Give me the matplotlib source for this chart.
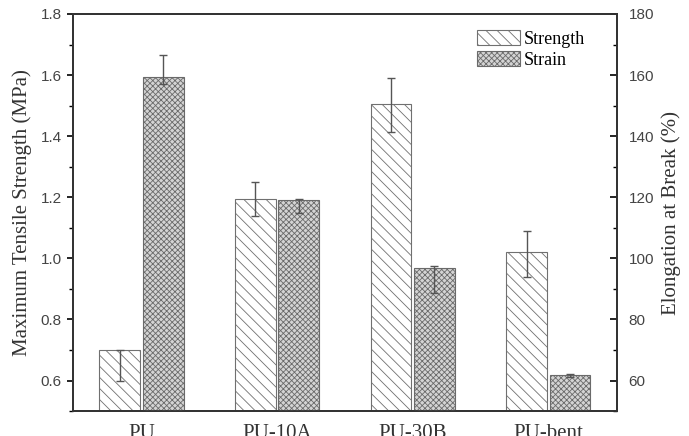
import matplotlib
matplotlib.use("Agg")
import numpy as np
from matplotlib import pyplot as plt
from matplotlib.ticker import MultipleLocator

# data
samples = ["PU", "PU-10A", "PU-30B", "PU-bent"]
strength = [0.70, 1.195, 1.505, 1.02]          # MPa, left axis
strength_err_lo = [0.10, 0.055, 0.09, 0.08]
strength_err_hi = [0.0, 0.055, 0.085, 0.07]
strain = [159.5, 119.0, 96.8, 61.7]            # %, right axis
strain_err_lo = [2.5, 4.0, 8.0, 0.4]
strain_err_hi = [7.0, 0.4, 0.8, 0.4]

plt.rcParams["hatch.linewidth"] = 0.6
plt.rcParams["hatch.color"] = "#707070"
serif = "Liberation Serif"
sans = "Liberation Sans"

fig = plt.figure(figsize=(6.89, 4.36), dpi=100)
ax1 = fig.add_axes([0.106, 0.057, 0.790, 0.911])
ax2 = ax1.twinx()

x = np.arange(len(samples))
w = 0.30
off = 0.16

b1 = ax1.bar(x - off, strength, w, color="white", edgecolor="#707070",
             hatch="\\\\\\", linewidth=0.8, zorder=2)
ax1.errorbar(x - off, strength, yerr=[strength_err_lo, strength_err_hi],
             fmt="none", ecolor="#555555", elinewidth=1.0, capsize=3, zorder=3)

b2 = ax2.bar(x + off, strain, w, color="#d4d4d4", edgecolor="#6a6a6a",
             hatch="xxxxxx", linewidth=0.8, zorder=2)
ax2.errorbar(x + off, strain, yerr=[strain_err_lo, strain_err_hi],
             fmt="none", ecolor="#555555", elinewidth=1.0, capsize=3, zorder=3)

ax1.set_xlim(-0.505, 3.51)
ax1.set_ylim(0.5, 1.8)
ax2.set_ylim(50, 180)

ax1.yaxis.set_minor_locator(MultipleLocator(0.1))
ax1.set_yticks([0.6, 0.8, 1.0, 1.2, 1.4, 1.6, 1.8])
ax2.yaxis.set_minor_locator(MultipleLocator(10))
ax2.set_yticks([60, 80, 100, 120, 140, 160, 180])

ax1.set_xticks(x)
ax1.set_xticklabels(samples, fontfamily=serif, fontsize=15, color="#333333")
ax1.tick_params(axis="x", length=0, pad=9)
ax1.tick_params(axis="y", which="major", direction="out", length=4, width=1.2,
                labelsize=11, labelcolor="#444444", pad=4)
ax1.tick_params(axis="y", which="minor", direction="out", length=3, width=1.0)
ax2.tick_params(axis="y", which="major", direction="in", length=5, width=1.2,
                labelsize=11, labelcolor="#444444", pad=8)
ax2.tick_params(axis="y", which="minor", direction="in", length=3, width=1.0)
for lab in ax1.get_yticklabels() + ax2.get_yticklabels():
    lab.set_fontfamily(sans)

for ax in (ax1, ax2):
    for s in ax.spines.values():
        s.set_linewidth(1.3)
        s.set_color("#333333")

ax1.set_ylabel("Maximum Tensile Strength (MPa)", fontfamily=serif,
               fontsize=15, color="#333333", labelpad=6)
ax2.set_ylabel("Elongation at Break (%)", fontfamily=serif,
               fontsize=15, color="#333333", labelpad=5)

ax2.legend([b1, b2], ["Strength", "Strain"], loc="upper right",
           bbox_to_anchor=(0.97, 1.0), frameon=False,
           prop={"family": serif, "size": 13}, handlelength=2.4,
           handleheight=0.85, labelspacing=0.2, handletextpad=0.2)

fig.savefig("out.png", dpi=100)
